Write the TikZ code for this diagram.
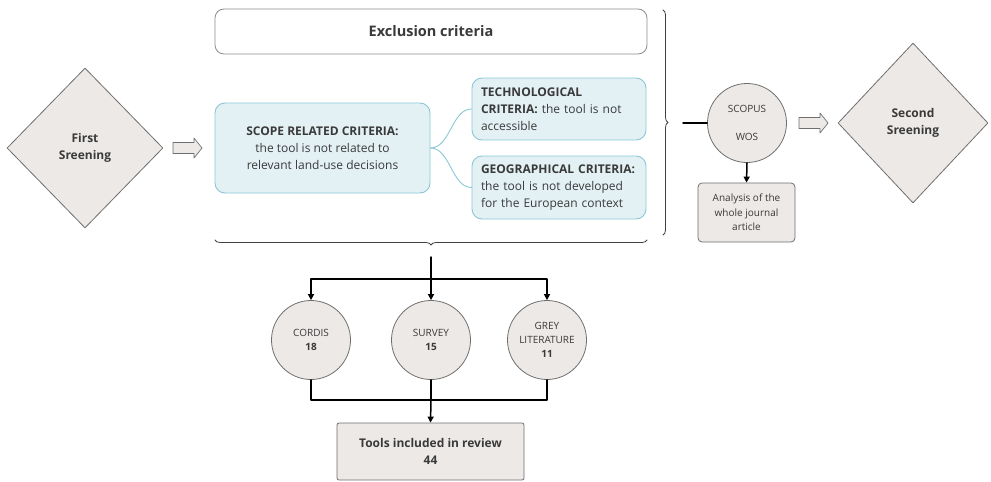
\documentclass[tikz,border=0pt]{standalone}
\usepackage{fontspec}
\setmainfont{Open Sans}
\usetikzlibrary{arrows.meta,decorations.pathreplacing,shapes.geometric}
\definecolor{boxgrey}{HTML}{ECE9E7}
\definecolor{edgegrey}{HTML}{6F6F6F}
\definecolor{paleblue}{HTML}{E3F1F5}
\definecolor{edgeblue}{HTML}{8BC7D4}
\definecolor{inkgrey}{HTML}{3A3A3A}
\begin{document}
\begin{tikzpicture}[x=1pt, y=-1pt, line cap=round, line join=round,
	every node/.append style={text=inkgrey},
	screening/.style={diamond, draw=edgegrey, fill=boxgrey, line width=.8pt, inner sep=0pt, align=center, font=\bfseries\fontsize{12}{17}\selectfont},
	critbox/.style={draw=edgeblue, fill=paleblue, line width=.9pt, rounded corners=10pt, inner sep=0pt, font=\fontsize{12}{17}\selectfont},
	source/.style={circle, draw=edgegrey, fill=boxgrey, line width=.8pt, inner sep=0pt, minimum size=79pt, align=center, font=\fontsize{10}{14}\selectfont},
	greybox/.style={draw=edgegrey, fill=boxgrey, line width=.8pt, rounded corners=4pt, inner sep=0pt, align=center},
	flow/.style={line width=1.5pt, black},
	tip/.style={-{Triangle[length=6pt,width=6pt]}},
	twig/.style={draw=edgeblue, line width=.9pt},
	bracket/.style={draw=black!75, line width=.8pt, decorate},
	hollowarrow/.pic={\draw[draw=edgegrey, fill=boxgrey, line width=.7pt] (0,-5.5) -- (21,-5.5) -- (21,-10) -- (29,0) -- (21,10) -- (21,5.5) -- (0,5.5) -- cycle;}]
	\useasboundingbox (0,0) rectangle (991,482);
	
	% screenings
	\node[screening, minimum width=156pt, minimum height=160pt] (first) at (85,148) {First\\Sreening};
	\node[screening, minimum width=150pt, minimum height=160pt] (second) at (913,123) {Second\\Sreening};
	\pic at (173,148) {hollowarrow};
	\pic at (799,123) {hollowarrow};
	
	% exclusion criteria
	\node[draw=edgegrey!80, fill=white, line width=.8pt, rounded corners=9pt, minimum width=432pt, minimum height=45pt, font=\bfseries\fontsize{14.5}{17}\selectfont] (exclusion) at (431,31.5) {Exclusion criteria};
	\node[critbox, minimum width=215pt, minimum height=90pt, align=center] (scope) at (322.5,148) {\textbf{SCOPE RELATED CRITERIA:}\\the tool is not related to\\relevant land-use decisions};
	\node[critbox, minimum width=174pt, minimum height=62pt, text width=156pt, align=left] (tech) at (559,109) {\textbf{TECHNOLOGICAL}\\\textbf{CRITERIA:} the tool is not\\accessible};
	\node[critbox, minimum width=174pt, minimum height=63pt, text width=156pt, align=left] (geo) at (559,187.5) {\textbf{GEOGRAPHICAL CRITERIA:}\\the tool is not developed\\for the European context};
	\draw[twig] (scope.east) .. controls +(20,0) and +(-20,0) .. (tech.west);
	\draw[twig] (scope.east) .. controls +(20,0) and +(-20,0) .. (geo.west);
	
	% braces
	\draw[bracket, decoration={brace, amplitude=5pt}] (663,10) -- (663,235);
	\draw[bracket, decoration={brace, amplitude=5pt}] (647,240) -- (215,240);
	
	% scopus and wos
	\node[source] (scopus) at (747,123) {SCOPUS\\[14pt]WOS};
	\node[greybox, minimum width=97pt, minimum height=59pt, font=\fontsize{10}{14.5}\selectfont] (analysis) at (746.5,212.5) {Analysis of the\\whole journal\\article};
	\coordinate (feed) at (683,123);
	\draw[flow] (feed) -- (scopus.west);
	\draw[flow, tip] (scopus.south) -- (analysis.north);
	
	% sources
	\node[source] (cordis) at (311,340) {CORDIS\\\textbf{18}};
	\node[source] (survey) at (431,340) {SURVEY\\\textbf{15}};
	\node[source] (grey) at (547,340) {GREY\\LITERATURE\\\textbf{11}};
	\node[greybox, minimum width=187pt, minimum height=57pt, rounded corners=2pt, font=\bfseries\fontsize{12}{17}\selectfont] (tools) at (430.5,451.5) {Tools included in review\\44};
	\coordinate (split) at (431,257);
	\coordinate (fork) at (431,279);
	\coordinate (merge) at (431,400);
	\draw[flow] (split) -- (fork);
	\draw[flow, tip] (fork) -| (cordis.north);
	\draw[flow, tip] (fork) -- (survey.north);
	\draw[flow, tip] (fork) -| (grey.north);
	\draw[flow] (cordis.south) |- (merge);
	\draw[flow] (grey.south) |- (merge);
	\draw[flow] (survey.south) -- (merge);
	\draw[flow, tip] (merge) -- (tools.north);
	
\end{tikzpicture}
\end{document}
